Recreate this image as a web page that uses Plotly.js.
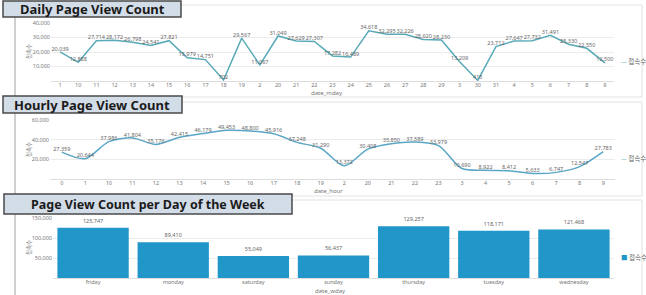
<!DOCTYPE html>
<html><head><meta charset="utf-8">
<script src="https://cdn.plot.ly/plotly-3.0.1.min.js"></script>
<style>html,body{margin:0;padding:0;background:#fff;}#chart{width:646px;height:295px;}</style>
</head><body><div id="chart"></div>
<script>
// ---- data ----
const dayCats = ["1","10","11","12","13","14","15","16","17","18","19","2","20","21","22","23","24","25","26","27","28","29","3","30","31","4","5","6","7","8","9"];
const dayVals = [20039,12888,27714,28172,26798,24541,27821,15979,14751,702,29567,11067,31049,27629,27307,17282,16489,34618,32295,32226,28620,28230,13209,415,23712,27647,27732,31491,25330,22550,12500];
const hourCats = ["0","1","10","11","12","13","14","15","16","17","18","19","2","20","21","22","23","3","4","5","6","7","8","9"];
const hourVals = [27359,20644,37986,41804,35176,42415,46179,49453,48800,45916,37248,31290,13372,30408,35850,37589,33979,10690,8922,8412,5633,6747,12547,27783];
const wdayCats = ["friday","monday","saturday","sunday","thursday","tuesday","wednesday"];
const wdayVals = [125747,89410,55049,56437,129257,118171,121468];
const seriesName = "접속수";
const titles = ["Daily Page View Count","Hourly Page View Count","Page View Count per Day of the Week"];
const xTitles = ["date_mday","date_hour","date_wday"];

// ---- layout helpers ----
const W = 646, H = 295;
const px = x => x / W, py = y => 1 - y / H;
const fmt = v => v.toLocaleString('en-US');
const FONT = "Noto Sans, Noto Sans CJK KR, sans-serif";
const tickFont = {family: FONT, size: 5.5, color: "#777"};
const lineCol1 = "#58aab8", lineCol2 = "#5aa6c6", barCol = "#2196c9";

const traces = [
  {x: dayCats, y: dayVals, type: "scatter", mode: "lines+text", name: seriesName,
   line: {color: lineCol1, width: 1.5}, text: dayVals.map(fmt), textposition: "top center",
   textfont: {family: FONT, size: 5.5, color: "#666"}, cliponaxis: false, showlegend: false,
   xaxis: "x", yaxis: "y"},
  {x: hourCats, y: hourVals, type: "scatter", mode: "lines+text", name: seriesName,
   line: {color: lineCol2, width: 1.5, shape: "spline", smoothing: 0.8}, text: hourVals.map(fmt), textposition: "top center",
   textfont: {family: FONT, size: 5.5, color: "#666"}, cliponaxis: false, showlegend: false,
   xaxis: "x2", yaxis: "y2"},
  {x: wdayCats, y: wdayVals, type: "bar", name: seriesName, marker: {color: barCol},
   text: wdayVals.map(fmt), textposition: "outside", textfont: {family: FONT, size: 5.5, color: "#666"},
   cliponaxis: false, showlegend: false, xaxis: "x3", yaxis: "y3"}
];

function xax(domain, cats, range, anchor) {
  return {domain: domain, anchor: anchor, type: "category", categoryorder: "array", categoryarray: cats,
    range: range, showgrid: false, showline: true, linecolor: "#ddd", linewidth: 1, ticks: "", ticklen: 0,
    ticklabelstandoff: -2,
    tickfont: tickFont, automargin: false, fixedrange: true, zeroline: false};
}
function yax(domain, range, dtick, anchor) {
  return {domain: domain, anchor: anchor, range: range, dtick: dtick, tickformat: ",d",
    showgrid: true, gridcolor: "#ececec", gridwidth: 1, zeroline: false, showline: false, ticks: "", ticklen: 0,
    tickfont: tickFont, automargin: false, fixedrange: true, showticklabels: true};
}

const layout = {
  width: W, height: H, margin: {l: 0, r: 0, t: 0, b: 0},
  paper_bgcolor: "#fff", plot_bgcolor: "#fff", showlegend: false, bargap: 0.11,
  xaxis: xax([px(51), px(614)], dayCats, [-0.5, 30.5], "y"),
  yaxis: Object.assign(yax([py(81), py(23)], [0, 40000], 10000, "x"), {tickvals: [10000,20000,30000,40000]}),
  xaxis2: xax([px(50), px(615)], hourCats, [-0.5, 23.5], "y2"),
  yaxis2: Object.assign(yax([py(179), py(120)], [0, 60000], 20000, "x2"), {tickvals: [20000,40000,60000]}),
  xaxis3: xax([px(53), px(614)], wdayCats, [-0.5, 6.5], "y3"),
  yaxis3: Object.assign(yax([py(278), py(218)], [0, 150000], 50000, "x3"), {tickvals: [50000,100000,150000]}),
  shapes: [], annotations: []
};

// panel frames
[[15,5,642,97],[15,102,642,196],[15,200,642,296]].forEach(r => layout.shapes.push({
  type: "rect", xref: "paper", yref: "paper", x0: px(r[0]), x1: px(r[2]), y0: py(r[1]), y1: py(r[3]),
  line: {color: "#e2e2e2", width: 1}, fillcolor: "rgba(0,0,0,0)", layer: "below"}));
layout.shapes.push({type: "line", xref: "paper", yref: "paper", x0: px(15), x1: px(15), y0: py(17), y1: py(295),
  line: {color: "#d0d0d0", width: 2}});

// title boxes
const boxes = [[3,1,181,17],[3,96,182,113],[4,194,292,214]];
const tsize = [13, 13, 12.5];
boxes.forEach((b, i) => {
  layout.shapes.push({type: "rect", xref: "paper", yref: "paper", x0: px(b[0]), x1: px(b[2]), y0: py(b[1]), y1: py(b[3]),
    line: {color: "#4a4a4a", width: 1.5}, fillcolor: "#d3dde8"});
  layout.annotations.push({xref: "paper", yref: "paper", x: px((b[0]+b[2])/2), y: py((b[1]+b[3])/2),
    xanchor: "center", yanchor: "middle", showarrow: false, text: "<b>" + titles[i] + "</b>",
    font: {family: "Noto Sans, sans-serif", size: tsize[i], color: "#1b1b1b"}});
});

// axis titles
[[327,93],[328,191],[330,290.5]].forEach((p, i) => layout.annotations.push({xref: "paper", yref: "paper",
  x: px(p[0]), y: py(p[1]), xanchor: "center", yanchor: "middle", showarrow: false, text: xTitles[i],
  font: {family: FONT, size: 6, color: "#777"}}));
[52, 150, 248].forEach(y => layout.annotations.push({xref: "paper", yref: "paper", x: px(29), y: py(y),
  xanchor: "center", yanchor: "middle", showarrow: false, text: seriesName, textangle: -90,
  font: {family: "Noto Sans CJK KR, sans-serif", size: 5.5, color: "#777"}}));

// legends (annotation style)
const legs = [[61, lineCol1, "—"], [158, lineCol2, "—"], [257, barCol, "■"]];
legs.forEach(l => layout.annotations.push({xref: "paper", yref: "paper", x: px(619), y: py(l[0]),
  xanchor: "left", yanchor: "middle", showarrow: false,
  text: '<span style="color:' + l[1] + '">' + l[2] + '</span> ' + seriesName,
  font: {family: "Noto Sans CJK KR, sans-serif", size: 6.5, color: "#666"}}));

Plotly.newPlot("chart", traces, layout, {staticPlot: true, displayModeBar: false});
</script></body></html>
